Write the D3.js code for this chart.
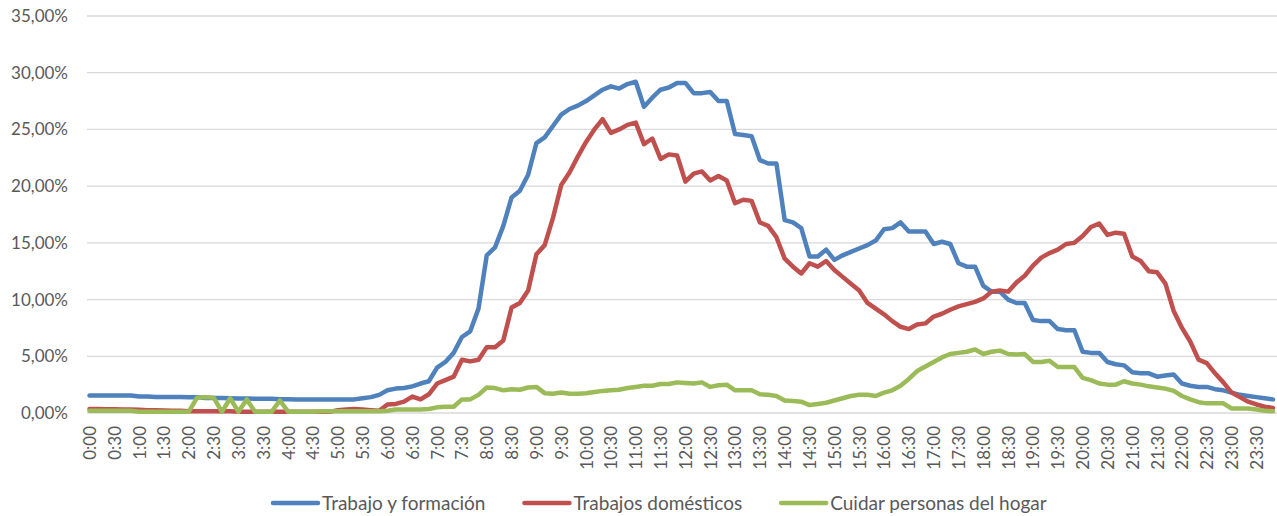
<!DOCTYPE html>
<html>
<head>
<meta charset="utf-8">
<script src="https://cdn.jsdelivr.net/npm/d3@7"></script>
<style>
  body { margin: 0; background: #fff; }
  text { font-family: Lato, "Open Sans", sans-serif; fill: #595959; }
</style>
</head>
<body>
<svg width="1277" height="516"></svg>
<script>
// series names and colours (Office style)
var seriesNames = ["Trabajo y formación", "Trabajos domésticos", "Cuidar personas del hogar"];
var seriesColors = ["#4f81bd", "#c0504d", "#9bbb59"];

// percentages, one value every 10 minutes from 0:00 to 23:50
var trabajo = [
  1.55, 1.55, 1.55, 1.55, 1.55, 1.55,
  1.45, 1.45, 1.42, 1.42,
  1.40, 1.40, 1.38, 1.38,
  1.33, 1.33, 1.32, 1.30,
  1.28, 1.28, 1.26, 1.26, 1.25,
  1.22, 1.22, 1.2, 1.2, 1.2,
  1.18, 1.18, 1.18, 1.18,
  1.2, 1.3, 1.4, 1.6, 2.0, 2.15, 2.2, 2.35, 2.6, 2.8,
  4.0, 4.5, 5.3, 6.7, 7.2, 9.2, 13.9, 14.6, 16.5, 19.0,
  19.6, 21.0, 23.8, 24.3, 25.3, 26.3, 26.8, 27.1, 27.5, 28.0,
  28.5, 28.8, 28.6, 29.0, 29.2, 27.0, 27.8, 28.5, 28.7, 29.1,
  29.1, 28.2, 28.2, 28.3, 27.5, 27.5, 24.6, 24.5, 24.4, 22.3,
  22.0, 22.0, 17.0, 16.8, 16.3, 13.8, 13.8, 14.4, 13.5, 13.9,
  14.2, 14.5, 14.8, 15.2, 16.2, 16.3, 16.8, 16.0, 16.0, 16.0,
  14.9, 15.1, 14.9, 13.2, 12.9, 12.9, 11.2, 10.7, 10.7, 10.0,
  9.7, 9.7, 8.2, 8.1, 8.1, 7.4, 7.3, 7.3, 5.4, 5.3,
  5.3, 4.5, 4.3, 4.2, 3.6, 3.5, 3.5, 3.2, 3.3, 3.4,
  2.6, 2.4, 2.3, 2.3, 2.1, 2.0, 1.8, 1.6, 1.5, 1.4, 1.3, 1.2
];
var domesticos = [
  0.35, 0.35, 0.33, 0.33, 0.3, 0.3,
  0.28, 0.25, 0.25, 0.22, 0.2, 0.2,
  0.15, 0.15, 0.15, 0.15, 0.15, 0.15,
  0.1, 0.1, 0.1, 0.1, 0.1, 0.1, 0.1, 0.1, 0.1, 0.1, 0.1, 0.1,
  0.25, 0.3, 0.35, 0.3, 0.25, 0.2,
  0.75, 0.8, 1.0, 1.45, 1.2, 1.65,
  2.6, 2.9, 3.2, 4.7, 4.55, 4.7, 5.8, 5.8, 6.4, 9.3,
  9.7, 10.8, 14.0, 14.8, 17.2, 20.1, 21.2, 22.6, 23.9, 25.0,
  25.9, 24.7, 25.0, 25.4, 25.6, 23.7, 24.2, 22.4, 22.8, 22.7,
  20.4, 21.1, 21.3, 20.5, 20.9, 20.5, 18.5, 18.8, 18.7, 16.8,
  16.5, 15.5, 13.6, 12.9, 12.3, 13.2, 12.9, 13.4, 12.6, 12.0,
  11.4, 10.8, 9.7, 9.2, 8.7, 8.1, 7.6, 7.4, 7.8, 7.9,
  8.5, 8.75, 9.1, 9.4, 9.6, 9.8, 10.1, 10.7, 10.8, 10.7,
  11.5, 12.1, 13.0, 13.7, 14.1, 14.4, 14.9, 15.0, 15.6, 16.4,
  16.7, 15.7, 15.9, 15.8, 13.8, 13.4, 12.5, 12.4, 11.4, 9.0,
  7.5, 6.3, 4.7, 4.4, 3.5, 2.7, 1.8, 1.4, 1.0, 0.75, 0.55, 0.45
];
var cuidar = [
  0.2, 0.2, 0.2, 0.2, 0.2, 0.2,
  0.12, 0.12, 0.12, 0.12, 0.12, 0.12, 0.12,
  1.35, 1.4, 1.35,
  0.1,
  1.3,
  0.1,
  1.2,
  0.1, 0.1, 0.1,
  1.1,
  0.12, 0.12, 0.12, 0.12, 0.15, 0.15, 0.15, 0.15, 0.15, 0.15, 0.15, 0.15,
  0.2, 0.3, 0.3, 0.3, 0.3, 0.35,
  0.5, 0.55, 0.55, 1.2, 1.2, 1.6, 2.25, 2.2, 2.0, 2.1,
  2.05, 2.25, 2.3, 1.75, 1.7, 1.8, 1.7, 1.7, 1.75, 1.85,
  1.95, 2.0, 2.05, 2.2, 2.3, 2.4, 2.4, 2.55, 2.55, 2.7,
  2.65, 2.6, 2.7, 2.3, 2.45, 2.5, 2.0, 2.0, 2.0, 1.65,
  1.6, 1.5, 1.1, 1.05, 1.0, 0.7, 0.8, 0.9, 1.1, 1.3,
  1.5, 1.6, 1.6, 1.5, 1.8, 2.0, 2.4, 3.0, 3.7, 4.1,
  4.5, 4.9, 5.2, 5.3, 5.4, 5.6, 5.2, 5.4, 5.5, 5.2,
  5.15, 5.2, 4.5, 4.5, 4.6, 4.05, 4.05, 4.05, 3.1, 2.9,
  2.6, 2.5, 2.5, 2.8, 2.6, 2.5, 2.35, 2.25, 2.15, 1.95,
  1.5, 1.2, 0.95, 0.85, 0.85, 0.85, 0.4, 0.4, 0.4, 0.3, 0.2, 0.15
];

// time categories, every 10 minutes
var times = d3.range(144).map(function(i) {
  var m = i * 10;
  return Math.floor(m / 60) + ":" + d3.format("02")(m % 60);
});
// axis labels every 30 minutes
var tickLabels = times.filter(function(d, i) { return i % 3 === 0; });

var yTicks = [0, 5, 10, 15, 20, 25, 30, 35];

var svg = d3.select("svg"),
    plotLeft = 87, plotRight = 1277, plotTop = 16, plotBottom = 413;

var x = d3.scalePoint().domain(times).range([89.5, 1273]);
var y = d3.scaleLinear().domain([0, 35]).range([plotBottom, plotTop]);

var esFormat = d3.formatLocale({decimal: ",", thousands: ".", grouping: [3], currency: ["", "€"]}).format(".2f");

// gridlines
svg.append("g")
  .selectAll("line")
  .data(yTicks)
  .enter().append("line")
    .attr("x1", plotLeft).attr("x2", plotRight)
    .attr("y1", function(d) { return y(d); })
    .attr("y2", function(d) { return y(d); })
    .attr("stroke", "#d9d9d9")
    .attr("stroke-width", 1.3);

// y axis labels
var yAxis = svg.append("g")
    .attr("transform", "translate(" + (plotLeft - 19) + ",0)")
    .call(d3.axisLeft(y).tickValues(yTicks).tickSize(0).tickPadding(0)
      .tickFormat(function(d) { return esFormat(d) + "%"; }));
yAxis.select(".domain").remove();
yAxis.selectAll("text")
    .style("font-size", "17px")
    .attr("fill", "#595959");

// x axis labels
var xAxis = svg.append("g")
    .attr("transform", "translate(0," + plotBottom + ")")
    .call(d3.axisBottom(x).tickValues(tickLabels).tickSize(0));
xAxis.select(".domain").remove();
xAxis.selectAll("text")
    .style("font-size", "17px")
    .attr("fill", "#595959")
    .attr("text-anchor", "end")
    .attr("transform", "rotate(-90)")
    .attr("x", -13)
    .attr("y", 0)
    .attr("dy", "0.35em");

// lines
var series = [trabajo, domesticos, cuidar];
var line = d3.line()
    .x(function(d, i) { return x(times[i]); })
    .y(function(d) { return y(d); });

svg.append("g")
  .selectAll("path")
  .data(series)
  .enter().append("path")
    .attr("d", line)
    .attr("fill", "none")
    .attr("stroke", function(d, i) { return seriesColors[i]; })
    .attr("stroke-width", 4.5)
    .attr("stroke-linejoin", "round")
    .attr("stroke-linecap", "round");

// legend
var legend = svg.append("g").attr("transform", "translate(0,503)");
var lx = 273;
seriesNames.forEach(function(name, i) {
  legend.append("line")
      .attr("x1", lx).attr("x2", lx + 45)
      .attr("y1", 0).attr("y2", 0)
      .attr("stroke", seriesColors[i])
      .attr("stroke-width", 4.5)
      .attr("stroke-linecap", "round");
  var t = legend.append("text")
      .attr("x", lx + 49)
      .attr("y", 0)
      .attr("dy", "0.35em")
      .style("font-size", "19px")
      .text(name);
  lx += 49 + t.node().getComputedTextLength() + 39;
});
</script>
</body>
</html>
